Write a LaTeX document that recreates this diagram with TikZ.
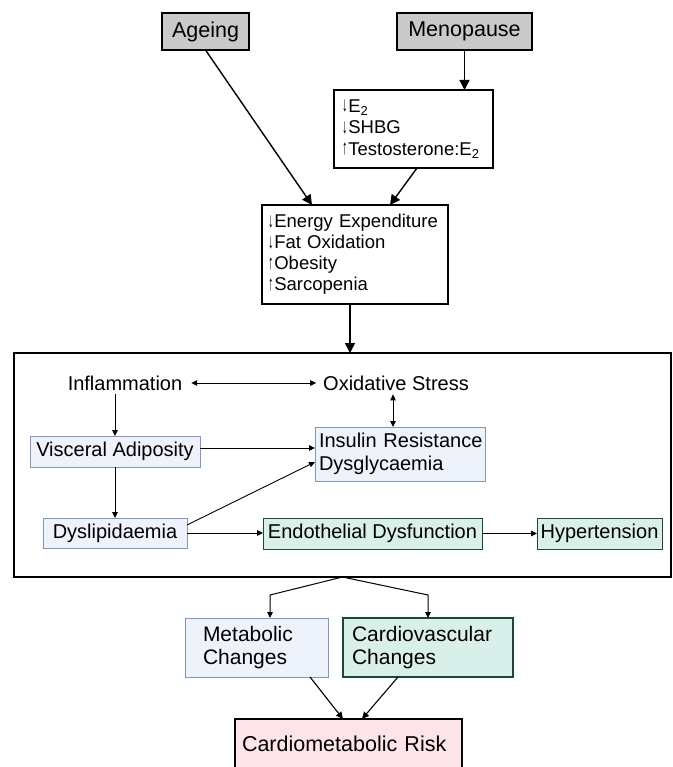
\documentclass[tikz,border=0pt]{standalone}
\usepackage{fontspec}
\usepackage{graphicx}
\setmainfont{Liberation Sans}
\usetikzlibrary{arrows.meta,calc}
\definecolor{greyfill}{RGB}{201,201,201}
\definecolor{bluefill}{RGB}{238,243,251}
\definecolor{blueline}{RGB}{125,152,200}
\definecolor{greenfill}{RGB}{217,240,234}
\definecolor{greenline}{RGB}{28,72,60}
\definecolor{pinkfill}{RGB}{252,228,232}
\newcommand{\mydown}{\raisebox{0.6pt}{\scalebox{0.6}[1.12]{↓}}\kern0.8pt}
\newcommand{\myup}{\raisebox{0.6pt}{\scalebox{0.6}[1.12]{↑}}\kern0.8pt}
\begin{document}
\begin{tikzpicture}[x=1pt,y=-1pt,
 every node/.style={inner sep=0pt, outer sep=0pt},
 topbox/.style={draw=black, line width=1.6pt, fill=greyfill, font=\fontsize{21.5}{24}\selectfont, minimum height=37pt, align=center},
 whitebox/.style={draw=black, line width=1.3pt, fill=white, font=\fontsize{18.5}{21.5}\selectfont, align=left},
 bluebox/.style={draw=blueline, line width=1pt, fill=bluefill, font=\fontsize{20}{23}\selectfont},
 greenbox/.style={draw=greenline, line width=1pt, fill=greenfill, font=\fontsize{20}{23}\selectfont},
 plaintext/.style={font=\fontsize{20}{23}\selectfont, inner sep=4pt},
 bigarrow/.style={line width=1.4pt, -{Triangle[length=10pt,width=10pt]}},
 smallarrow/.style={line width=0.9pt, -{Triangle[length=6pt,width=5.5pt]}},
 medarrow/.style={line width=1.1pt, -{Triangle[length=7pt,width=6.5pt]}},
 dblarrow/.style={line width=0.9pt, {Triangle[length=6pt,width=5.5pt]}-{Triangle[length=6pt,width=5.5pt]}},
]
\clip (0,0) rectangle (672,767);
\fill[white] (0,0) rectangle (672,767);

% top
\node[topbox, minimum width=87pt] (age) at (205.5,31.5) {Ageing};
\node[topbox, minimum width=135pt] (meno) at (464.5,31.5) {Menopause};
\node[whitebox, minimum height=78pt, text width=143pt, inner xsep=8pt] (e2) at (413.5,129)
  {\mbox{\mydown E\textsubscript{2}}\\\mbox{\mydown SHBG}\\\mbox{\myup Testosterone:E\textsubscript{2}}};
\node[whitebox, minimum height=99pt, text width=174pt, inner xsep=6pt, font=\fontsize{18.5}{21}\selectfont] (en) at (355,254.5)
  {\mbox{\mydown Energy Expenditure}\\\mbox{\mydown Fat Oxidation}\\\mbox{\myup Obesity}\\\mbox{\myup Sarcopenia}};

% big frame
\node[draw=black, line width=1.3pt, minimum width=657pt, minimum height=224pt] (big) at (342.5,465) {};

\node[plaintext] (inf) at (125,383) {Inflammation};
\node[plaintext] (oxi) at (396,383) {Oxidative Stress};
\node[bluebox, minimum height=54pt, text width=162pt, inner xsep=4pt, align=left] (ins) at (400,454)
  {\mbox{Insulin Resistance}\\\mbox{Dysglycaemia}};
\node[bluebox, minimum width=170pt, minimum height=31pt] (vis) at (115,451.5) {Visceral Adiposity};
\node[bluebox, minimum width=144pt, minimum height=30pt] (dys) at (115,533) {Dyslipidaemia};
\node[greenbox, minimum width=219pt, minimum height=31pt] (endo) at (372.5,533.5) {Endothelial Dysfunction};
\node[greenbox, minimum width=125pt, minimum height=31pt] (hyp) at (599.5,533.5) {Hypertension};

% bottom
\node[bluebox, minimum height=59pt, text width=107pt, inner xsep=18pt, align=left, font=\fontsize{21}{23.5}\selectfont] (meta) at (256.5,647.5)
  {Metabolic\\Changes};
\node[greenbox, line width=1.8pt, minimum height=59pt, text width=152pt, inner xsep=9pt, align=left, font=\fontsize{21}{23.5}\selectfont] (cardio) at (428,647.5)
  {Cardiovascular\\Changes};
\node[draw=black, line width=1.3pt, fill=pinkfill, minimum height=50pt, text width=213pt, inner xsep=7pt, align=left, font=\fontsize{21.5}{24}\selectfont] (risk) at (348.5,744)
  {Cardiometabolic Risk};

% arrows top
\draw[bigarrow] (age.south) -- ([xshift=-43pt]en.north);
\draw[bigarrow] ([xshift=3.5pt]e2.south) -- ([xshift=35pt]en.north);
\draw[bigarrow] (meno.south) -- (meno.south |- e2.north);
\draw[bigarrow] ([xshift=-5pt]en.south) -- ([xshift=-5pt]en.south |- big.north);

% arrows inner
\draw[dblarrow, shorten <=5pt, shorten >=3pt] (inf.east) -- (oxi.west);
\draw[dblarrow] ([xshift=-3pt]oxi.south) -- ([xshift=-7pt]ins.north);
\draw[smallarrow] (vis.north |- inf.south) -- (vis.north);
\draw[smallarrow] ([yshift=3.5pt]vis.east) -- ([yshift=3.5pt]vis.east -| ins.west);
\draw[smallarrow] (vis.south) -- (dys.north);
\draw[smallarrow] ([yshift=8pt]dys.east) -- ([yshift=-8pt]ins.west);
\draw[smallarrow] (dys.east) -- (dys.east -| endo.west);
\draw[smallarrow] (endo.east) -- (hyp.west);

% branch
\coordinate (br) at (big.south);
\draw[smallarrow, line width=1pt] (br) -- ($(meta.north)+(13.5,-23)$) -- ([xshift=13.5pt]meta.north);
\draw[smallarrow, line width=1pt] (br) -- ($(cardio.north)+(0,-23)$) -- (cardio.north);
\draw[medarrow] ([xshift=53.5pt]meta.south) -- ([xshift=-5.5pt]risk.north);
\draw[medarrow] ([xshift=-30pt]cardio.south) -- ([xshift=13.5pt]risk.north);
\end{tikzpicture}
\end{document}
